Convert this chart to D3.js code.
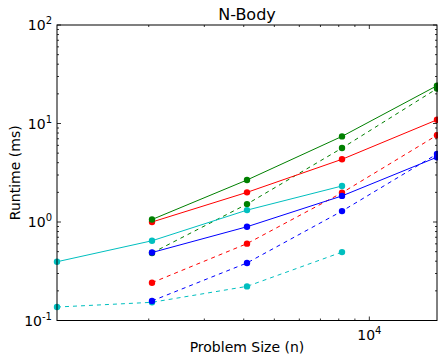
<!DOCTYPE html>
<html>
<head>
<meta charset="utf-8">
<script src="https://cdn.jsdelivr.net/npm/d3@7"></script>
<style>
  html, body { margin: 0; padding: 0; background: #fff; }
  svg text { font-family: "DejaVu Sans", sans-serif; fill: #000; }
</style>
</head>
<body>
<svg id="chart" width="438" height="357"></svg>
<script>
// Problem sizes (n)
const sizes = [1024, 2048, 4096, 8192, 16384];

// Runtime (ms) per implementation; null where no measurement exists
const greenSolid = [null, 1.06, 2.67, 7.4, 24.2];
const redSolid   = [null, 1.0, 2.0, 4.33, 10.9];
const cyanSolid  = [0.395, 0.645, 1.32, 2.32, null];
const blueSolid  = [null, 0.49, 0.895, 1.84, 4.55];
const greenDash  = [null, 0.485, 1.52, 5.63, 22.6];
const redDash    = [null, 0.242, 0.603, 1.98, 7.6];
const blueDash   = [null, 0.158, 0.384, 1.29, 4.9];
const cyanDash   = [0.137, 0.153, 0.222, 0.495, null];

const series = [
  { values: cyanDash,   color: "#00bfbf", dash: "4,4" },
  { values: blueDash,   color: "#0000ff", dash: "4,4" },
  { values: redDash,    color: "#ff0000", dash: "4,4" },
  { values: greenDash,  color: "#008000", dash: "4,4" },
  { values: cyanSolid,  color: "#00bfbf", dash: null },
  { values: blueSolid,  color: "#0000ff", dash: null },
  { values: redSolid,   color: "#ff0000", dash: null },
  { values: greenSolid, color: "#008000", dash: null }
];

const yTickVals = [0.1, 1, 10, 100];
const yTickExp = ["-1", "0", "1", "2"];
const xTickVals = [10000];
const xTickExp = ["4"];

const margin = { left: 57, right: 1, top: 25, bottom: 36.5 };
const W = 438, H = 357;
const svg = d3.select("#chart");

const x = d3.scaleLog().domain([1024, 16384]).range([margin.left, W - margin.right]);
const y = d3.scaleLog().domain([0.1, 100]).range([H - margin.bottom, margin.top]);

const x0 = x.range()[0], x1 = x.range()[1];
const y0 = y.range()[0], y1 = y.range()[1];

// minor tick values
const yMinor = [];
for (let e = -1; e < 2; e++) for (let m = 2; m <= 9; m++) yMinor.push(m * Math.pow(10, e));
const xMinor = [];
for (let m = 2; m <= 9; m++) xMinor.push(m * 1000);

const ticks = svg.append("g").attr("stroke", "#000").attr("stroke-width", 0.8);
// y ticks (inward, both sides)
yTickVals.forEach(v => {
  const yy = y(v);
  ticks.append("line").attr("x1", x0).attr("x2", x0 + 4).attr("y1", yy).attr("y2", yy);
  ticks.append("line").attr("x1", x1).attr("x2", x1 - 4).attr("y1", yy).attr("y2", yy);
});
yMinor.forEach(v => {
  const yy = y(v);
  ticks.append("line").attr("x1", x0).attr("x2", x0 + 2).attr("y1", yy).attr("y2", yy);
  ticks.append("line").attr("x1", x1).attr("x2", x1 - 2).attr("y1", yy).attr("y2", yy);
});
// x ticks (inward, both sides)
xTickVals.forEach(v => {
  const xx = x(v);
  ticks.append("line").attr("x1", xx).attr("x2", xx).attr("y1", y0).attr("y2", y0 - 4);
  ticks.append("line").attr("x1", xx).attr("x2", xx).attr("y1", y1).attr("y2", y1 + 4);
});
xMinor.filter(v => v >= 1024 && v <= 16384).forEach(v => {
  const xx = x(v);
  ticks.append("line").attr("x1", xx).attr("x2", xx).attr("y1", y0).attr("y2", y0 - 2);
  ticks.append("line").attr("x1", xx).attr("x2", xx).attr("y1", y1).attr("y2", y1 + 2);
});

// data lines and markers
const plot = svg.append("g");
series.forEach(s => {
  const pts = sizes.map((n, i) => [n, s.values[i]]).filter(d => d[1] != null);
  const line = d3.line().x(d => x(d[0])).y(d => y(d[1]));
  plot.append("path").datum(pts)
    .attr("d", line)
    .attr("fill", "none")
    .attr("stroke", s.color)
    .attr("stroke-width", 1)
    .attr("stroke-dasharray", s.dash);
  plot.selectAll(null).data(pts).enter().append("circle")
    .attr("cx", d => x(d[0])).attr("cy", d => y(d[1]))
    .attr("r", 3.2)
    .attr("fill", s.color);
});

// frame
svg.append("rect")
  .attr("x", x0).attr("y", y1)
  .attr("width", x1 - x0).attr("height", y0 - y1)
  .attr("fill", "none").attr("stroke", "#000").attr("stroke-width", 1);

// y tick labels: 10^e
yTickVals.forEach((v, i) => {
  const t = svg.append("text")
    .attr("x", x0 - 5).attr("y", y(v) + 5)
    .attr("text-anchor", "end")
    .attr("font-size", 14);
  t.append("tspan").text("10");
  t.append("tspan").attr("dy", -6).attr("font-size", 10).text(yTickExp[i]);
});
// x tick labels
xTickVals.forEach((v, i) => {
  const t = svg.append("text")
    .attr("x", x(v)).attr("y", y0 + 19)
    .attr("text-anchor", "middle")
    .attr("font-size", 14);
  t.append("tspan").text("10");
  t.append("tspan").attr("dy", -6).attr("font-size", 10).text(xTickExp[i]);
});

// titles
svg.append("text")
  .attr("x", (x0 + x1) / 2).attr("y", 20)
  .attr("text-anchor", "middle").attr("font-size", 16)
  .text("N-Body");
svg.append("text")
  .attr("x", (x0 + x1) / 2).attr("y", 352)
  .attr("text-anchor", "middle").attr("font-size", 14)
  .text("Problem Size (n)");
svg.append("text")
  .attr("transform", `translate(20,${(y0 + y1) / 2}) rotate(-90)`)
  .attr("text-anchor", "middle").attr("font-size", 14)
  .text("Runtime (ms)");
</script>
</body>
</html>
